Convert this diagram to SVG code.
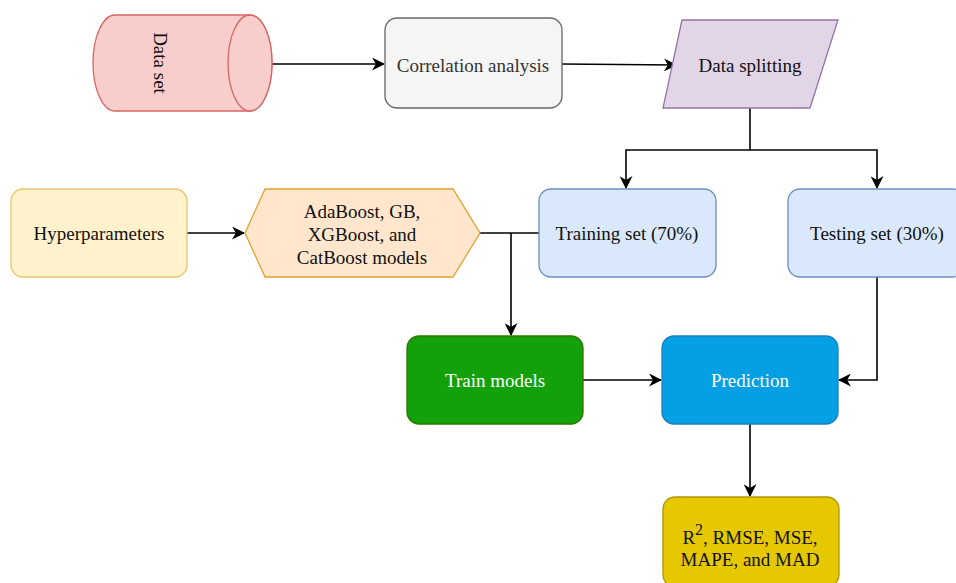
<svg xmlns="http://www.w3.org/2000/svg" width="956" height="583" viewBox="0 0 956 583">
<defs>
<marker id="arr" viewBox="0 0 12 12" refX="11" refY="6" markerWidth="13" markerHeight="13" markerUnits="userSpaceOnUse" orient="auto">
<path d="M0,0 L12,6 L0,12 L3.5,6 Z" fill="#000"/>
</marker>
</defs>
<style>
text{font-family:"Liberation Serif","Times New Roman",serif;font-size:19px;fill:#111;text-anchor:middle;dominant-baseline:central}
.c{fill:none;stroke:#000;stroke-width:1.6}
.w{fill:#fff}
</style>
<rect width="956" height="583" fill="#fff"/>
<g id="connectors">
<path class="c" d="M272,64 L384,64" marker-end="url(#arr)"/>
<path class="c" d="M562,64 L676,65" marker-end="url(#arr)"/>
<path class="c" d="M750,108 L750,150 L626,150 L626,188" marker-end="url(#arr)"/>
<path class="c" d="M750,150 L877,150 L877,188" marker-end="url(#arr)"/>
<path class="c" d="M187,233 L244,233" marker-end="url(#arr)"/>
<path class="c" d="M480,233 L539,233"/>
<path class="c" d="M511,233 L511,335" marker-end="url(#arr)"/>
<path class="c" d="M877,277 L877,380 L839,380" marker-end="url(#arr)"/>
<path class="c" d="M583,380 L661,380" marker-end="url(#arr)"/>
<path class="c" d="M750,424 L750,496" marker-end="url(#arr)"/>
</g>
<g id="dataset">
<path d="M115,15 L250,15 A22,48 0 0 1 250,111 L115,111 A22,48 0 0 1 115,15 Z" fill="#f8cecc" stroke="#d76663" stroke-width="1.3"/>
<ellipse cx="250" cy="63" rx="22" ry="48" fill="#f8cecc" stroke="#d76663" stroke-width="1.3"/>
<text x="0" y="0" transform="translate(160,63) rotate(90)">Data set</text>
</g>
<g id="correlation">
<rect x="385" y="18" width="177" height="90" rx="12" fill="#f5f5f5" stroke="#666" stroke-width="1.3"/>
<text x="473" y="65" style="fill:#333">Correlation analysis</text>
</g>
<g id="splitting">
<path d="M682,20 L838,20 L810,108 L663,108 Z" fill="#e1d5e7" stroke="#9673a6" stroke-width="1.3"/>
<text x="750" y="65">Data splitting</text>
</g>
<g id="hyper">
<rect x="11" y="189" width="176" height="88" rx="12" fill="#fff2cc" stroke="#e6c56a" stroke-width="1.3"/>
<text x="99" y="233">Hyperparameters</text>
</g>
<g id="models">
<path d="M245,233 L265,189 L453,189 L480,233 L453,277 L265,277 Z" fill="#ffe6cc" stroke="#e3a02a" stroke-width="1.3"/>
<text x="362" y="211">AdaBoost, GB,</text>
<text x="362" y="234">XGBoost, and</text>
<text x="362" y="257">CatBoost models</text>
</g>
<g id="training">
<rect x="539" y="189" width="177" height="88" rx="12" fill="#dae8fc" stroke="#6c8ebf" stroke-width="1.3"/>
<text x="627" y="233">Training set (70%)</text>
</g>
<g id="testing">
<rect x="788" y="189" width="177" height="88" rx="12" fill="#dae8fc" stroke="#6c8ebf" stroke-width="1.3"/>
<text x="877" y="233">Testing set (30%)</text>
</g>
<g id="train">
<rect x="407" y="336" width="176" height="88" rx="12" fill="#12a10a" stroke="#2d7600" stroke-width="1.3"/>
<text x="495" y="380" class="w">Train models</text>
</g>
<g id="prediction">
<rect x="662" y="336" width="176" height="88" rx="12" fill="#04a0e3" stroke="#1b7fc0" stroke-width="1.3"/>
<text x="750" y="380" class="w">Prediction</text>
</g>
<g id="metrics">
<rect x="663" y="497" width="176" height="90" rx="12" fill="#e6c800" stroke="#b09500" stroke-width="1.3"/>
<text x="750" y="537">R<tspan dy="-8" font-size="16">2</tspan><tspan dy="8">, RMSE, MSE,</tspan></text>
<text x="750" y="559">MAPE, and MAD</text>
</g>
</svg>
